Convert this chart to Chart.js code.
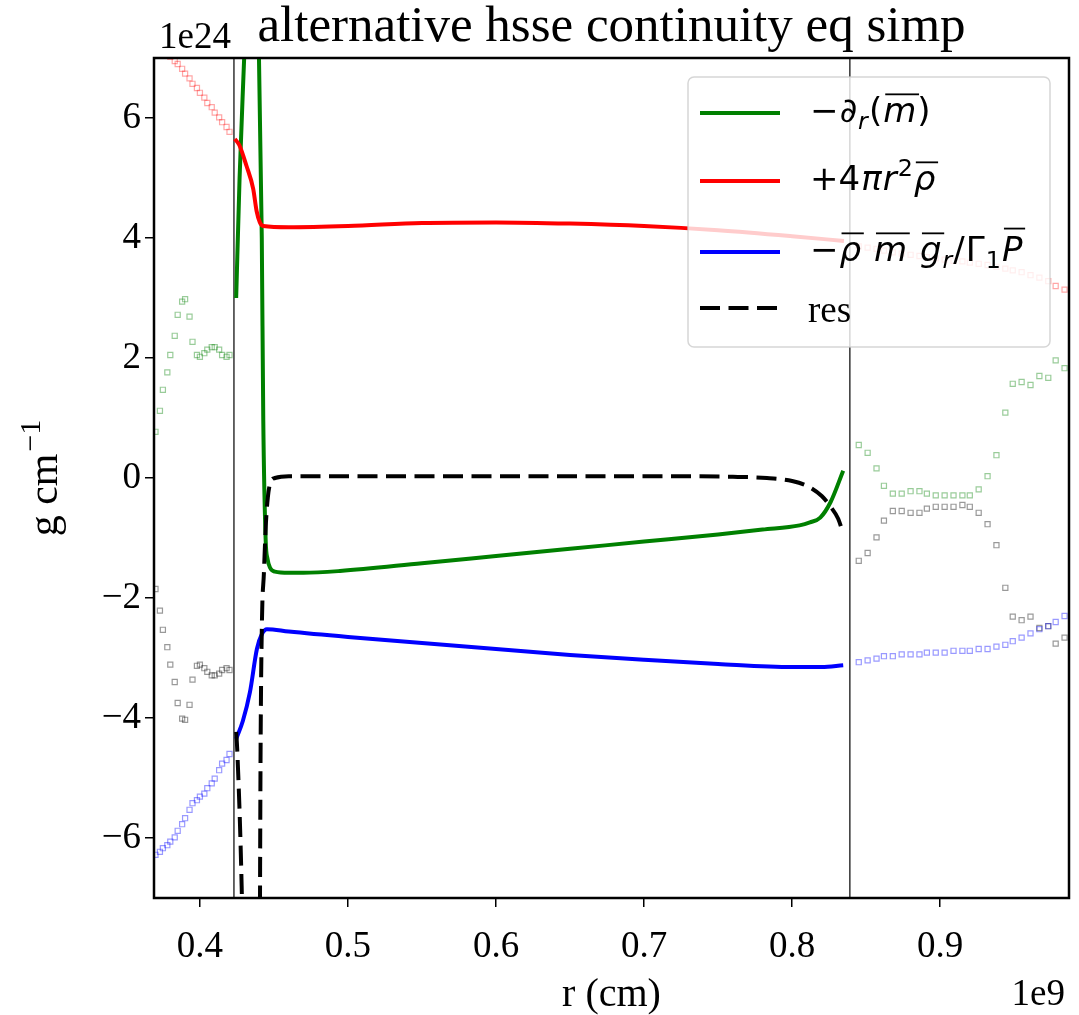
<!DOCTYPE html>
<html>
<head>
<meta charset="utf-8">
<title>alternative hsse continuity eq simp</title>
<script src="https://cdn.jsdelivr.net/npm/chart.js@4.4.0/dist/chart.umd.min.js"></script>
<style>
  html, body { margin: 0; padding: 0; background: #fff; }
  #wrap { width: 1079px; height: 1015px; position: relative; }
</style>
</head>
<body>
<div id="wrap"><canvas id="chart"></canvas></div>
<script>
// r is in units of 1e9 cm, values in units of 1e24 g cm^-1
const xTicks = [0.4, 0.5, 0.6, 0.7, 0.8, 0.9];
const yTicks = [-6, -4, -2, 0, 2, 4, 6];
const xMin = 0.369, xMax = 0.987;
const yMin = -7, yMax = 7;

// the two thin vertical lines
const boundaryR = [0.423, 0.839];

// solid curves (inside the boundaries)
const greenR = [0.4245, 0.4268, 0.4299, 0.4330, 0.4360, 0.4399, 0.4418, 0.4428, 0.4444, 0.4457, 0.4475, 0.4507, 0.46, 0.47, 0.4946, 0.55, 0.60, 0.65, 0.70, 0.75, 0.78, 0.805, 0.812, 0.819, 0.826, 0.8345];
const greenV = [3.0, 5.0, 7.0, 9.0, 9.2, 7.0, 4.0, 0.98, -1.02, -1.35, -1.5, -1.56, -1.58, -1.58, -1.55, -1.42, -1.30, -1.18, -1.06, -0.94, -0.86, -0.79, -0.74, -0.66, -0.40, 0.12];

const redR = [0.4236, 0.4266, 0.4315, 0.4360, 0.4383, 0.4405, 0.4428, 0.46, 0.50, 0.55, 0.60, 0.65, 0.70, 0.75, 0.80, 0.835];
const redV = [5.65, 5.55, 5.2, 4.82, 4.45, 4.26, 4.2, 4.18, 4.2, 4.25, 4.26, 4.24, 4.2, 4.13, 4.03, 3.95];

const blueR = [0.4245, 0.4290, 0.4338, 0.4385, 0.4419, 0.4453, 0.46, 0.50, 0.55, 0.60, 0.65, 0.70, 0.75, 0.80, 0.82, 0.8345];
const blueV = [-4.35, -4.05, -3.57, -2.85, -2.6, -2.52, -2.56, -2.65, -2.75, -2.85, -2.95, -3.03, -3.10, -3.15, -3.15, -3.12];

// res is broken where it runs off the bottom of the axes
const resR = [0.4245, 0.4252, 0.4282, 0.4288, null, 0.4405, 0.4410, 0.4419, 0.4432, 0.4446, 0.4459, 0.4480, 0.4507, 0.46, 0.50, 0.60, 0.70, 0.76, 0.783, 0.80, 0.81, 0.82, 0.8257, 0.8311, 0.8338];
const resV = [-4.23, -4.52, -6.8, -7.6, null, -7.6, -4.5, -2.4, -1.6, -0.75, -0.32, -0.05, 0.0, 0.03, 0.03, 0.03, 0.03, 0.02, 0.0, -0.05, -0.13, -0.3, -0.47, -0.68, -0.87];

// faint square markers outside the boundaries
const markerRLeft = [0.370, 0.373, 0.375, 0.378, 0.380, 0.383, 0.385, 0.388, 0.390, 0.393, 0.395, 0.398, 0.400, 0.403, 0.405, 0.408, 0.410, 0.413, 0.415, 0.418, 0.420];
const markerRRight = [0.845, 0.851, 0.857, 0.862, 0.868, 0.874, 0.880, 0.886, 0.891, 0.897, 0.903, 0.909, 0.915, 0.920, 0.926, 0.932, 0.938, 0.944, 0.949, 0.955, 0.961, 0.967, 0.973, 0.978, 0.984];

const greenLeft = [0.77, 1.12, 1.47, 1.76, 2.05, 2.37, 2.72, 2.94, 2.98, 2.69, 2.27, 2.05, 2.02, 2.08, 2.14, 2.18, 2.18, 2.14, 2.05, 2.02, 2.05];
const redLeft = [7.33, 7.26, 7.18, 7.1, 7.02, 6.95, 6.9, 6.82, 6.74, 6.66, 6.57, 6.5, 6.42, 6.34, 6.25, 6.18, 6.09, 6.01, 5.93, 5.85, 5.77];
const blueLeft = [-6.28, -6.23, -6.17, -6.12, -6.06, -5.99, -5.88, -5.77, -5.67, -5.53, -5.42, -5.37, -5.31, -5.26, -5.17, -5.09, -5.01, -4.87, -4.76, -4.70, -4.6];
const resLeft = [-1.85, -2.21, -2.53, -2.82, -3.11, -3.40, -3.75, -4.01, -4.03, -3.78, -3.36, -3.13, -3.11, -3.17, -3.23, -3.29, -3.29, -3.26, -3.2, -3.17, -3.2];

const greenRight = [0.55, 0.42, 0.16, -0.13, -0.26, -0.26, -0.22, -0.22, -0.26, -0.29, -0.29, -0.29, -0.29, -0.29, -0.19, 0.03, 0.38, 1.09, 1.57, 1.6, 1.55, 1.7, 1.67, 1.96, 1.83];
const redRight = [3.86, 3.84, 3.82, 3.79, 3.76, 3.74, 3.72, 3.70, 3.68, 3.66, 3.64, 3.62, 3.61, 3.59, 3.57, 3.55, 3.52, 3.49, 3.46, 3.43, 3.38, 3.34, 3.28, 3.2, 3.14];
const blueRight = [-3.07, -3.04, -3.01, -2.97, -2.97, -2.94, -2.94, -2.94, -2.91, -2.91, -2.91, -2.88, -2.88, -2.88, -2.85, -2.85, -2.81, -2.78, -2.72, -2.66, -2.59, -2.52, -2.47, -2.4, -2.3];
const resRight = [-1.38, -1.25, -0.99, -0.71, -0.55, -0.55, -0.58, -0.58, -0.51, -0.48, -0.48, -0.48, -0.45, -0.48, -0.58, -0.77, -1.12, -1.83, -2.31, -2.37, -2.31, -2.5, -2.47, -2.76, -2.66];

function pts(xs, ys) {
  return xs.map((x, i) => (x === null ? { x: NaN, y: null } : { x: x, y: ys[i] }));
}

const markerR = markerRLeft.concat(markerRRight);

function curve(label, xs, ys, color, order, dash) {
  return {
    label: label,
    data: pts(xs, ys),
    showLine: true,
    borderColor: color,
    borderWidth: 4,
    borderDash: dash || [],
    borderCapStyle: 'butt',
    borderJoinStyle: 'round',
    cubicInterpolationMode: 'monotone',
    spanGaps: false,
    pointRadius: 0,
    order: order
  };
}

function markers(ys, color) {
  return {
    data: pts(markerR, ys),
    showLine: false,
    pointStyle: 'rect',
    pointRadius: 3.6,
    pointBorderWidth: 1.2,
    pointBorderColor: color,
    pointBackgroundColor: 'rgba(255,255,255,0)',
    order: 6
  };
}

function vline(r) {
  return {
    data: [{ x: r, y: yMin }, { x: r, y: yMax }],
    showLine: true,
    borderColor: '#000',
    borderWidth: 1.2,
    pointRadius: 0,
    order: 7
  };
}

// legend labels, written as pieces of math text
const legendEntries = [
  { color: 'green', dash: [], math: [
    { t: '\u2212' }, { t: '\u2202', i: 1 }, { t: 'r', i: 1, sub: 1 }, { t: '(' }, { t: 'm', i: 1, ov: 1 }, { t: ')' }
  ] },
  { color: 'red', dash: [], math: [
    { t: '+4' }, { t: '\u03c0', i: 1 }, { t: 'r', i: 1 }, { t: '2', sup: 1 }, { t: '\u03c1', i: 1, ov: 1 }
  ] },
  { color: 'blue', dash: [], math: [
    { t: '\u2212' }, { t: '\u03c1', i: 1, ov: 1 }, { t: ' ' }, { t: 'm', i: 1, ov: 1 }, { t: ' ' },
    { t: 'g', i: 1, ov: 1 }, { t: 'r', i: 1, sub: 1 }, { t: '/' }, { t: '\u0393' }, { t: '1', sub: 1 },
    { t: 'P', i: 1, ov: 1, cap: 1 }
  ] },
  { color: 'black', dash: [20, 8.5], text: 'res' }
];

function drawMath(ctx, pieces, x, base, size) {
  pieces.forEach(p => {
    let s = size, y = base;
    if (p.sub) { s = size * 0.7; y = base + size * 0.22; }
    if (p.sup) { s = size * 0.7; y = base - size * 0.42; }
    ctx.font = (p.i ? 'italic ' : '') + s + 'px "DejaVu Sans"';
    const w = ctx.measureText(p.t).width;
    ctx.fillText(p.t, x, y);
    if (p.ov) {
      const oy = base - size * (p.cap ? 0.98 : 0.84);
      ctx.fillRect(x + size * 0.06, oy, w + size * 0.02, 1.8);
    }
    x += w + size * 0.03;
  });
}

const decorPlugin = {
  id: 'decor',
  afterDraw(chart) {
    const ctx = chart.ctx;
    const a = chart.chartArea;
    ctx.save();

    // axes frame
    ctx.strokeStyle = '#000';
    ctx.lineWidth = 2.5;
    ctx.strokeRect(a.left, a.top, a.right - a.left, a.bottom - a.top);

    // title and offset texts
    ctx.fillStyle = '#000';
    ctx.textBaseline = 'alphabetic';
    ctx.textAlign = 'center';
    ctx.font = '51px "Liberation Serif"';
    ctx.fillText('alternative hsse continuity eq simp', (a.left + a.right) / 2, 41);
    ctx.textAlign = 'left';
    ctx.font = '37px "Liberation Serif"';
    ctx.fillText('1e24', a.left + 5, 48);
    ctx.textAlign = 'right';
    ctx.fillText('1e9', a.right - 4, 1005);

    // y axis label with a raised exponent
    ctx.save();
    ctx.translate(57, (a.top + a.bottom) / 2);
    ctx.rotate(-Math.PI / 2);
    ctx.font = '42px "Liberation Serif"';
    const main = 'g cm';
    const wMain = ctx.measureText(main).width;
    ctx.font = '30px "Liberation Serif"';
    const sup = '\u22121';
    const wSup = ctx.measureText(sup).width;
    const x0 = -(wMain + wSup + 2) / 2;
    ctx.textAlign = 'left';
    ctx.font = '42px "Liberation Serif"';
    ctx.fillText(main, x0, 0);
    ctx.font = '30px "Liberation Serif"';
    ctx.fillText(sup, x0 + wMain + 2, -17);
    ctx.restore();

    // legend box
    const bx = 688, by = 77, bw = 362, bh = 270, rad = 6;
    ctx.beginPath();
    ctx.roundRect(bx, by, bw, bh, rad);
    ctx.fillStyle = 'rgba(255,255,255,0.8)';
    ctx.fill();
    ctx.strokeStyle = 'rgba(204,204,204,0.8)';
    ctx.lineWidth = 1.5;
    ctx.stroke();

    const rows = [113, 181, 252, 308];
    legendEntries.forEach((e, k) => {
      const y = rows[k];
      ctx.beginPath();
      ctx.setLineDash(e.dash);
      ctx.strokeStyle = e.color;
      ctx.lineWidth = 4;
      ctx.moveTo(700, y);
      ctx.lineTo(780, y);
      ctx.stroke();
      ctx.setLineDash([]);
      ctx.fillStyle = '#000';
      ctx.textAlign = 'left';
      if (e.math) {
        drawMath(ctx, e.math, 810, y + 9, 34);
      } else {
        ctx.font = '37px "Liberation Serif"';
        ctx.fillText(e.text, 808, y + 14);
      }
    });
    ctx.restore();
  }
};

const fmtY = v => (v < 0 ? '\u2212' + Math.abs(v) : String(v));

new Chart(document.getElementById('chart'), {
  type: 'scatter',
  data: {
    datasets: [
      curve('res', resR, resV, '#000', 1, [20, 8.5]),
      curve('blue', blueR, blueV, 'blue', 2),
      curve('red', redR, redV, 'red', 3),
      curve('green', greenR, greenV, 'green', 4),
      markers(greenLeft.concat(greenRight), 'rgba(0,128,0,0.4)'),
      markers(redLeft.concat(redRight), 'rgba(255,0,0,0.35)'),
      markers(blueLeft.concat(blueRight), 'rgba(0,0,255,0.4)'),
      markers(resLeft.concat(resRight), 'rgba(0,0,0,0.4)'),
      vline(boundaryR[0]),
      vline(boundaryR[1])
    ]
  },
  options: {
    responsive: true,
    maintainAspectRatio: false,
    animation: false,
    events: [],
    layout: { padding: { top: 58, right: 10, left: 0, bottom: 0 } },
    plugins: {
      legend: { display: false },
      tooltip: { enabled: false },
      title: { display: false }
    },
    scales: {
      x: {
        type: 'linear',
        min: xMin,
        max: xMax,
        afterBuildTicks(s) { s.ticks = xTicks.map(v => ({ value: v })); },
        afterFit(s) { s.height = 117; },
        grid: { display: true, drawOnChartArea: false, drawTicks: true, tickLength: 9, color: '#000', lineWidth: 1.5 },
        border: { display: false },
        ticks: {
          color: '#000',
          padding: 22,
          maxRotation: 0,
          font: { family: 'Liberation Serif', size: 37, lineHeight: 1 },
          callback: v => v.toFixed(1)
        },
        title: {
          display: true,
          text: 'r (cm)',
          color: '#000',
          padding: { top: 0, bottom: 0 },
          font: { family: 'Liberation Serif', size: 40, lineHeight: 1 }
        }
      },
      y: {
        type: 'linear',
        min: yMin,
        max: yMax,
        afterBuildTicks(s) { s.ticks = yTicks.map(v => ({ value: v })); },
        afterFit(s) { s.width = 154; },
        grid: { display: true, drawOnChartArea: false, drawTicks: true, tickLength: 9, color: '#000', lineWidth: 1.5 },
        border: { display: false },
        ticks: {
          color: '#000',
          padding: 4,
          font: { family: 'Liberation Serif', size: 37, lineHeight: 1 },
          callback: v => fmtY(v)
        }
      }
    }
  },
  plugins: [decorPlugin]
});
</script>
</body>
</html>
